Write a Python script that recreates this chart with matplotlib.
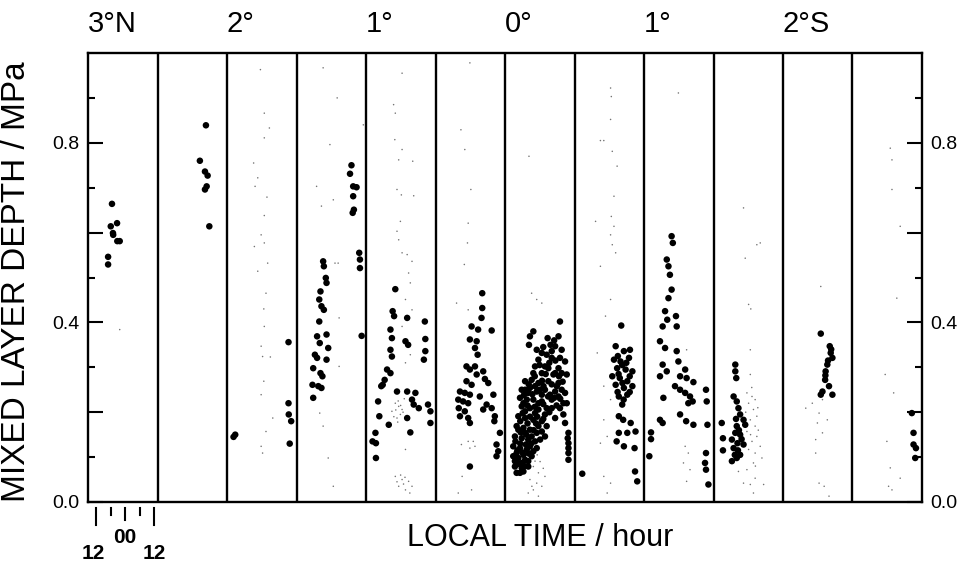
import numpy as np
import matplotlib.pyplot as plt

plt.rcParams['font.family'] = ['Liberation Sans', 'DejaVu Sans']

# one panel per half degree of latitude, 3N .. 2.5S
# each panel covers PW hours of local time, noon sits OFF hours from its left edge
PW = 28.7
OFF = 3.3

lat_labels = ['3°N', '2°', '1°', '0°', '1°', '2°S']
lat_label_panels = [0, 2, 4, 6, 8, 10]

# (local hour after noon, mixed layer depth / MPa) - black dots
lat30n = [(6.6, 0.664), (8.7, 0.621), (6.1, 0.614), (7.0, 0.599), (7.1, 0.595),
          (8.8, 0.581), (9.8, 0.581), (5.0, 0.546), (5.0, 0.529)]
lat25n = [(16.7, 0.839), (14.2, 0.760), (16.3, 0.736), (17.4, 0.727), (17.0, 0.703),
          (16.3, 0.696), (18.1, 0.614)]
lat20n = [(0.1, 0.150), (-0.6, 0.145), (22.1, 0.356), (22.1, 0.220), (22.2, 0.195),
          (23.2, 0.180), (22.6, 0.130)]
lat15n = [(7.7, 0.536), (8.0, 0.525), (8.8, 0.499), (9.1, 0.488), (6.6, 0.469),
          (6.1, 0.451), (7.0, 0.436), (8.0, 0.428), (6.1, 0.402), (9.1, 0.373),
          (5.2, 0.369), (6.3, 0.354), (9.8, 0.343), (4.3, 0.328), (5.2, 0.321),
          (9.1, 0.317), (3.6, 0.298), (6.6, 0.287), (7.4, 0.280), (3.3, 0.261),
          (5.7, 0.258), (7.0, 0.254), (3.6, 0.232), (19.4, 0.750), (18.8, 0.731),
          (20.1, 0.703), (21.5, 0.701), (20.1, 0.681), (20.4, 0.651), (19.9, 0.644),
          (22.6, 0.555), (22.9, 0.540), (22.9, 0.521), (23.6, 0.370)]
lat10n = [(8.8, 0.474), (7.7, 0.425), (8.3, 0.414), (13.7, 0.410), (21.0, 0.402),
          (6.8, 0.384), (7.4, 0.365), (13.0, 0.358), (14.1, 0.350), (21.2, 0.363),
          (6.8, 0.339), (21.2, 0.336), (7.4, 0.324), (20.6, 0.317), (5.4, 0.295),
          (6.8, 0.287), (4.4, 0.272), (3.6, 0.261), (3.0, 0.258), (9.5, 0.246),
          (13.7, 0.246), (17.1, 0.243), (15.7, 0.228), (16.4, 0.217), (18.5, 0.209),
          (22.3, 0.217), (23.3, 0.202), (1.7, 0.224), (2.2, 0.191), (6.1, 0.172),
          (13.7, 0.187), (23.3, 0.176), (15.0, 0.155), (0.6, 0.154), (-0.6, 0.135),
          (0.8, 0.131), (0.8, 0.098)]
lat05n = [(16.0, 0.465), (16.0, 0.432), (15.7, 0.410), (11.6, 0.391), (14.3, 0.384),
          (19.9, 0.382), (10.9, 0.362), (13.7, 0.358), (13.0, 0.343), (14.1, 0.328),
          (9.5, 0.302), (13.0, 0.302), (10.9, 0.295), (16.4, 0.291), (13.7, 0.284),
          (17.1, 0.274), (9.5, 0.269), (11.6, 0.261), (18.5, 0.265), (6.8, 0.246),
          (8.8, 0.243), (10.9, 0.239), (15.0, 0.235), (20.6, 0.239), (6.1, 0.228),
          (8.1, 0.224), (10.2, 0.220), (17.8, 0.217), (6.3, 0.209), (8.8, 0.202),
          (16.4, 0.206), (19.9, 0.209), (6.8, 0.191), (10.2, 0.187), (10.9, 0.176),
          (21.2, 0.191), (21.0, 0.180), (23.3, 0.154), (21.9, 0.128), (22.6, 0.113),
          (21.9, 0.102), (10.9, 0.079)]
lat00 = [(19.4, 0.402), (8.4, 0.380), (14.3, 0.365), (18.8, 0.369), (6.6, 0.350),
         (17.4, 0.347), (9.8, 0.339), (13.9, 0.328), (20.1, 0.339), (10.5, 0.317),
         (16.0, 0.321), (21.5, 0.313), (9.1, 0.302), (13.2, 0.302), (18.8, 0.298),
         (11.9, 0.287), (16.7, 0.284), (22.2, 0.284), (5.0, 0.269), (7.7, 0.272),
         (10.5, 0.265), (14.6, 0.269), (18.8, 0.265), (3.6, 0.250), (7.0, 0.254),
         (9.8, 0.246), (13.2, 0.250), (17.4, 0.246), (21.5, 0.243), (2.9, 0.232),
         (5.7, 0.228), (8.4, 0.228), (11.9, 0.224), (16.0, 0.228), (22.2, 0.220),
         (3.6, 0.213), (7.0, 0.209), (10.5, 0.206), (13.9, 0.209), (17.4, 0.187),
         (20.8, 0.195), (21.5, 0.176), (2.2, 0.191), (5.0, 0.187), (8.4, 0.183),
         (11.9, 0.180), (1.5, 0.169), (4.3, 0.165), (7.0, 0.161), (9.8, 0.154),
         (13.2, 0.146), (22.9, 0.154), (22.9, 0.131), (22.9, 0.109), (22.9, 0.094),
         (0.8, 0.146), (3.6, 0.142), (6.3, 0.139), (9.1, 0.135), (0.1, 0.124),
         (2.9, 0.120), (5.7, 0.117), (8.4, 0.113), (0.1, 0.102), (2.2, 0.098),
         (5.0, 0.094), (7.7, 0.102), (0.8, 0.079), (3.6, 0.076), (6.3, 0.079),
         (1.5, 0.065), (4.3, 0.068), (2.2, 0.161), (5.0, 0.154), (7.7, 0.146),
         (10.5, 0.169), (1.5, 0.109), (4.3, 0.105), (7.0, 0.124), (9.8, 0.120),
         (0.8, 0.091), (3.6, 0.087), (6.3, 0.091), (2.9, 0.065), (5.0, 0.202),
         (9.1, 0.198), (13.2, 0.195), (6.3, 0.243), (11.9, 0.239), (15.3, 0.239),
         (18.8, 0.235), (8.4, 0.287), (14.6, 0.298), (17.4, 0.287), (20.1, 0.287),
         (11.9, 0.332), (16.0, 0.336), (19.4, 0.321), (18.1, 0.258), (20.1, 0.250),
         (20.8, 0.220), (19.4, 0.209), (16.0, 0.209), (12.6, 0.258), (9.1, 0.258),
         (5.0, 0.250), (4.3, 0.220), (10.5, 0.220), (13.9, 0.169), (11.9, 0.157),
         (11.2, 0.139), (22.9, 0.120), (22.6, 0.142), (7.0, 0.369), (1.0, 0.135),
         (3.0, 0.130), (5.3, 0.128), (7.5, 0.130), (1.8, 0.115), (4.0, 0.110),
         (6.5, 0.108), (2.5, 0.085), (4.8, 0.080), (1.2, 0.095), (3.2, 0.155),
         (5.5, 0.150), (8.5, 0.160), (3.0, 0.180), (6.0, 0.175), (9.5, 0.175),
         (4.0, 0.198), (7.0, 0.190), (10.0, 0.190), (12.5, 0.185), (6.0, 0.215),
         (9.0, 0.212), (12.5, 0.218), (15.0, 0.200), (18.0, 0.215), (4.5, 0.238),
         (8.0, 0.240), (11.0, 0.250), (14.5, 0.235), (17.0, 0.232), (19.5, 0.230),
         (6.5, 0.262), (12.0, 0.270), (16.0, 0.262), (20.5, 0.268), (9.0, 0.280),
         (13.5, 0.285), (19.0, 0.280), (11.0, 0.305), (15.0, 0.310), (17.5, 0.315),
         (12.5, 0.345), (15.5, 0.350), (17.0, 0.360)]
lat05s = [(16.0, 0.393), (13.7, 0.347), (17.1, 0.336), (19.6, 0.339), (13.0, 0.317),
          (15.7, 0.313), (19.2, 0.321), (14.3, 0.298), (17.8, 0.295), (20.6, 0.291),
          (12.3, 0.280), (15.4, 0.276), (18.5, 0.269), (13.7, 0.261), (17.1, 0.254),
          (20.6, 0.258), (15.0, 0.235), (18.5, 0.239), (16.4, 0.217), (15.0, 0.191),
          (16.8, 0.183), (19.9, 0.176), (21.9, 0.157), (15.0, 0.154), (18.5, 0.154),
          (14.1, 0.135), (17.1, 0.124), (21.5, 0.120), (-0.1, 0.063), (21.7, 0.068),
          (22.6, 0.046), (14.6, 0.325), (16.4, 0.305), (18.1, 0.310), (14.9, 0.285),
          (16.5, 0.265), (19.5, 0.280), (14.5, 0.245), (17.0, 0.228), (19.5, 0.245)]
lat10s = [(8.1, 0.592), (8.6, 0.577), (6.1, 0.540), (6.8, 0.525), (7.4, 0.506),
          (8.1, 0.473), (6.8, 0.454), (5.4, 0.425), (6.3, 0.406), (4.4, 0.391),
          (9.9, 0.414), (10.2, 0.391), (3.3, 0.358), (5.4, 0.343), (10.2, 0.336),
          (10.9, 0.313), (4.4, 0.306), (6.1, 0.291), (13.7, 0.295), (3.3, 0.280),
          (11.6, 0.280), (14.3, 0.276), (17.1, 0.267), (9.5, 0.258), (11.6, 0.250),
          (13.7, 0.243), (15.7, 0.235), (4.7, 0.232), (15.0, 0.220), (16.8, 0.224),
          (11.6, 0.195), (3.3, 0.183), (4.4, 0.176), (14.1, 0.180), (17.1, 0.172),
          (-0.4, 0.155), (-0.4, 0.140), (-1.1, 0.102), (22.3, 0.250), (22.6, 0.224),
          (22.9, 0.172), (22.3, 0.109), (21.9, 0.087), (22.3, 0.072), (23.3, 0.039)]
lat15s = [(5.7, 0.306), (5.7, 0.291), (6.1, 0.276), (5.0, 0.235), (6.3, 0.224),
          (7.0, 0.209), (7.7, 0.195), (9.1, 0.183), (9.8, 0.172), (0.1, 0.176),
          (6.3, 0.169), (5.7, 0.154), (7.7, 0.150), (0.6, 0.142), (4.3, 0.139),
          (6.6, 0.131), (9.1, 0.128), (5.0, 0.120), (0.6, 0.115), (7.7, 0.105),
          (4.3, 0.091), (6.3, 0.098), (6.0, 0.185), (7.2, 0.160), (8.3, 0.140),
          (5.5, 0.105), (6.8, 0.115)]
lat20s = [(12.3, 0.375), (16.0, 0.347), (16.4, 0.332), (17.1, 0.321), (15.0, 0.306),
          (14.3, 0.291), (14.1, 0.272), (15.7, 0.258), (12.3, 0.239), (17.1, 0.239),
          (13.0, 0.246), (16.6, 0.340), (15.3, 0.315), (14.2, 0.282)]
lat25s = [(21.2, 0.198), (21.9, 0.154), (21.9, 0.128), (22.9, 0.120), (22.6, 0.098)]

# faint stippled background points
grey30n = [(9.8, 0.384)]
grey25n = []
grey20n = [(10.5, 0.963), (12.1, 0.866), (14.2, 0.833), (12.1, 0.811), (7.7, 0.755),
           (9.4, 0.722), (8.3, 0.703), (13.2, 0.679), (12.1, 0.638), (10.8, 0.595),
           (8.0, 0.569), (12.1, 0.577), (13.5, 0.532), (9.4, 0.514), (12.8, 0.465),
           (11.9, 0.430), (12.1, 0.391), (10.8, 0.347), (11.4, 0.324), (14.6, 0.323),
           (11.9, 0.269), (10.8, 0.239), (15.6, 0.187), (12.8, 0.157), (10.8, 0.124),
           (11.4, 0.109)]
grey15n = [(7.7, 0.967), (13.5, 0.900), (24.3, 0.840), (10.5, 0.796), (5.0, 0.703),
           (11.9, 0.673), (7.0, 0.659), (12.6, 0.532), (13.9, 0.532), (14.3, 0.410),
           (14.3, 0.302), (6.3, 0.198), (7.7, 0.169), (9.8, 0.098), (11.9, 0.035)]
grey10n = [(11.6, 0.955), (8.1, 0.885), (8.8, 0.866), (8.6, 0.807), (11.6, 0.785),
           (16.0, 0.759), (10.2, 0.762), (9.5, 0.696), (11.3, 0.684), (16.4, 0.682),
           (10.9, 0.625), (9.5, 0.603), (10.2, 0.584), (11.6, 0.555), (13.7, 0.551),
           (15.7, 0.536), (14.3, 0.510), (15.0, 0.488), (13.0, 0.451), (15.7, 0.428),
           (11.6, 0.391), (15.0, 0.328), (13.0, 0.310), (8.8, 0.220), (10.2, 0.213),
           (11.6, 0.206), (7.4, 0.202), (10.9, 0.195), (9.5, 0.187), (13.0, 0.117),
           (8.8, 0.057), (11.6, 0.050), (14.3, 0.046), (10.2, 0.035), (13.0, 0.027),
           (15.7, 0.035), (9.0, 0.205), (10.0, 0.225), (11.0, 0.215), (12.0, 0.200),
           (9.8, 0.178), (12.5, 0.230), (8.2, 0.190), (9.5, 0.045), (12.2, 0.040),
           (14.8, 0.020), (11.0, 0.060), (12.8, 0.055)]
grey05n = [(10.9, 0.978), (7.2, 0.829), (8.8, 0.785), (11.3, 0.696), (10.2, 0.621),
           (9.9, 0.577), (8.6, 0.529), (10.2, 0.428), (5.4, 0.443), (10.2, 0.135),
           (12.3, 0.135), (7.4, 0.128), (10.9, 0.120), (13.0, 0.124), (7.7, 0.057),
           (6.1, 0.020), (11.6, 0.027)]
grey00 = [(6.6, 0.770), (7.7, 0.465), (9.8, 0.451), (11.9, 0.443), (8.4, 0.079),
          (10.5, 0.065), (7.0, 0.050), (9.8, 0.042), (11.9, 0.035), (8.4, 0.027),
          (6.3, 0.020), (10.5, 0.013), (13.2, 0.057), (9.1, 0.091), (11.2, 0.090),
          (12.5, 0.075), (7.8, 0.035), (10.0, 0.105)]
grey05s = [(11.6, 0.922), (11.9, 0.903), (11.6, 0.852), (7.4, 0.805), (8.8, 0.805),
           (12.3, 0.781), (14.3, 0.748), (13.0, 0.681), (11.9, 0.636), (5.4, 0.625),
           (13.0, 0.614), (11.6, 0.595), (12.3, 0.573), (13.7, 0.555), (7.4, 0.525),
           (11.6, 0.451), (9.5, 0.414), (6.1, 0.332), (8.8, 0.258), (11.6, 0.228),
           (8.8, 0.183), (10.2, 0.146), (7.4, 0.131), (8.8, 0.057), (11.6, 0.042),
           (10.2, 0.020)]
grey10s = [(10.9, 0.911), (14.3, 0.339), (13.7, 0.124), (15.0, 0.109), (13.0, 0.087),
           (15.7, 0.072), (14.3, 0.046)]
grey15s = [(9.1, 0.655), (16.0, 0.577), (14.6, 0.573), (9.8, 0.543), (11.2, 0.440),
           (12.1, 0.430), (11.9, 0.339), (11.9, 0.284), (10.5, 0.243), (12.6, 0.235),
           (13.9, 0.228), (11.2, 0.220), (13.2, 0.206), (14.6, 0.191), (11.9, 0.183),
           (13.9, 0.169), (10.5, 0.157), (14.6, 0.146), (12.6, 0.135), (16.0, 0.124),
           (11.2, 0.117), (13.9, 0.109), (16.7, 0.098), (13.2, 0.087), (10.5, 0.072),
           (7.0, 0.068), (9.1, 0.042), (11.9, 0.039), (13.9, 0.053), (17.4, 0.039),
           (13.2, 0.020), (12.5, 0.255), (15.0, 0.210), (12.0, 0.150), (15.2, 0.160),
           (10.0, 0.200), (14.0, 0.080)]
grey20s = [(12.3, 0.480), (6.1, 0.209), (8.8, 0.220), (11.6, 0.198), (10.9, 0.176),
           (15.0, 0.183), (13.0, 0.154), (10.2, 0.109), (11.6, 0.042), (13.7, 0.035),
           (15.7, 0.013), (13.0, 0.228), (10.2, 0.139)]
grey25s = [(12.3, 0.788), (13.0, 0.762), (13.0, 0.696), (16.4, 0.614), (15.0, 0.454),
           (10.2, 0.284), (13.7, 0.243), (10.9, 0.135), (12.3, 0.076), (11.6, 0.035),
           (13.0, 0.027), (16.4, 0.053)]

black_panels = [lat30n, lat25n, lat20n, lat15n, lat10n, lat05n,
                lat00, lat05s, lat10s, lat15s, lat20s, lat25s]
grey_panels = [grey30n, grey25n, grey20n, grey15n, grey10n, grey05n,
               grey00, grey05s, grey10s, grey15s, grey20s, grey25s]

fig, ax = plt.subplots(figsize=(9.62, 5.65), dpi=100)
fig.subplots_adjust(left=88 / 962, right=922 / 962, bottom=63 / 565, top=512 / 565)

for k, pts in enumerate(grey_panels):
    if not pts:
        continue
    h, d = np.array(pts).T
    ax.scatter(k * PW + OFF + h, d, s=1.2, c='0.45', edgecolors='none', zorder=1)

for k, pts in enumerate(black_panels):
    h, d = np.array(pts).T
    ax.scatter(k * PW + OFF + h, d, s=22, c='black', edgecolors='none', zorder=2)

n = len(black_panels)
for k in range(1, n):
    ax.axvline(k * PW, color='black', lw=1.7, zorder=3)

ax.set_xlim(0, n * PW)
ax.set_ylim(0, 1.0)
for s in ax.spines.values():
    s.set_linewidth(1.7)

# y axis: long ticks every 0.2, short every 0.1, labels at 0.0, 0.4, 0.8
ax.set_yticks([0.0, 0.2, 0.4, 0.6, 0.8])
ax.set_yticklabels(['0.0', '', '0.4', '', '0.8'])
ax.set_yticks([0.1, 0.3, 0.5, 0.7, 0.9], minor=True)
ax.tick_params(axis='y', which='major', direction='in', length=11, width=1.5,
               left=True, right=True, labelleft=True, labelright=True,
               labelsize=14, pad=6)
ax.tick_params(axis='y', which='minor', direction='in', length=5, width=1.5,
               left=True, right=True)
ax.set_xticks([])

ax.set_ylabel('MIXED LAYER DEPTH / MPa', fontsize=24)
ax.yaxis.set_label_coords(-0.067, 0.49)
ax.set_xlabel('LOCAL TIME / hour', fontsize=22, va='center')
ax.xaxis.set_label_coords(0.542, -0.08)

# latitude headings above the panels
trans = ax.get_xaxis_transform()
for lab, k in zip(lat_labels, lat_label_panels):
    ax.text(k * PW, 1.047, lab, transform=trans, ha='left', va='baseline', fontsize=21)

# local time key under the first panel
key_hours = [0, 6, 12, 18, 24]
key_low = [-0.051, -0.029, -0.040, -0.029, -0.051]
for hr, y1 in zip(key_hours, key_low):
    ax.plot([OFF + hr, OFF + hr], [-0.013, y1], transform=trans, color='black',
            lw=1.5, clip_on=False)
ax.text(OFF - 1, -0.114, '12', transform=trans, ha='center', va='center',
        fontsize=15, fontweight='bold')
ax.text(OFF + 12, -0.080, '00', transform=trans, ha='center', va='center',
        fontsize=15, fontweight='bold')
ax.text(OFF + 24, -0.114, '12', transform=trans, ha='center', va='center',
        fontsize=15, fontweight='bold')

plt.savefig('out.png', dpi=100)
